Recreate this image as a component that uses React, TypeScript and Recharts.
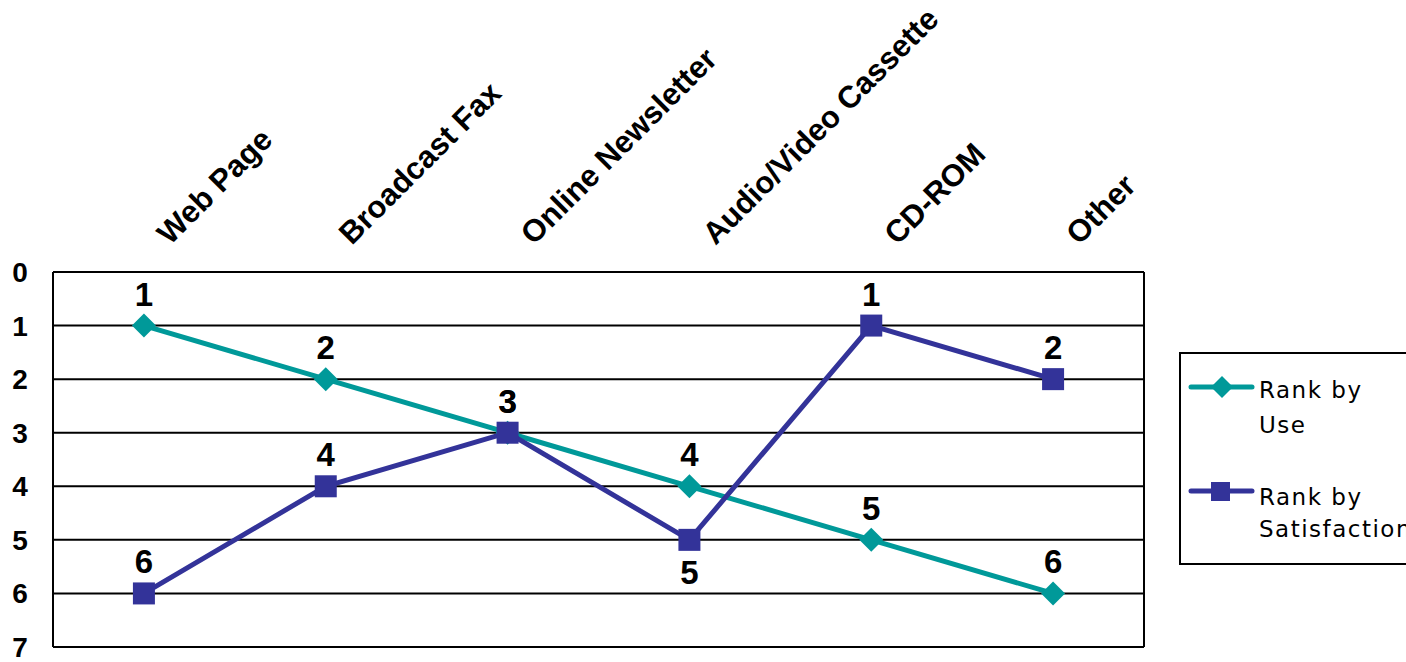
import { LineChart, Line, XAxis, YAxis, CartesianGrid, LabelList, Legend } from "recharts";

const categories = ["Web Page", "Broadcast Fax", "Online Newsletter", "Audio/Video Cassette", "CD-ROM", "Other"];
const rankByUse = [1, 2, 3, 4, 5, 6];
const rankBySatisfaction = [6, 4, 3, 5, 1, 2];
const yTicks = [0, 1, 2, 3, 4, 5, 6, 7];

const data = categories.map((name, i) => ({
  name,
  use: rankByUse[i],
  satisfaction: rankBySatisfaction[i],
}));

const TEAL = "#009999";
const NAVY = "#333399";
const BOLD = "'Liberation Sans', Arial, sans-serif";

const XTick = ({ x, payload }: any) => (
  <text
    x={x + 26}
    y={246}
    transform={`rotate(-45 ${x + 26} 246)`}
    textAnchor="start"
    fontFamily={BOLD}
    fontWeight="bold"
    fontSize={31}
    fill="#000"
  >
    {payload.value}
  </text>
);

const YTick = ({ y, payload }: any) => (
  <text x={20} y={y} dy={10} textAnchor="middle" fontFamily={BOLD} fontWeight="bold" fontSize={28} fill="#000">
    {payload.value}
  </text>
);

const Diamond = ({ cx, cy }: any) => (
  <polygon points={`${cx},${cy - 12} ${cx + 12},${cy} ${cx},${cy + 12} ${cx - 12},${cy}`} fill={TEAL} />
);

const Square = ({ cx, cy }: any) => <rect x={cx - 11} y={cy - 11} width={22} height={22} fill={NAVY} />;

const makeLabel = (below: number[]) => (props: any) => {
  const { x, y, value, index } = props;
  const isBelow = below.includes(index);
  return (
    <text
      x={x}
      y={isBelow ? y + 44 : y - 20}
      textAnchor="middle"
      fontFamily={BOLD}
      fontWeight="bold"
      fontSize={33}
      fill="#000"
    >
      {value}
    </text>
  );
};

const LegendBox = () => {
  const font = { fontFamily: "'DejaVu Sans', Tahoma, sans-serif", fontSize: 23, letterSpacing: 1.5, fill: "#000" };
  return (
    <svg width={240} height={214} style={{ display: "block" }}>
      <rect x={1} y={1} width={260} height={211} fill="#fff" stroke="#000" strokeWidth={2} />
      <line x1={12} y1={35} x2={73} y2={35} stroke={TEAL} strokeWidth={5} strokeLinecap="round" />
      <polygon points="43,24 54,35 43,46 32,35" fill={TEAL} />
      <text x={80} y={46} {...font}>Rank by</text>
      <text x={80} y={81} {...font}>Use</text>
      <line x1={12} y1={139} x2={73} y2={139} stroke={NAVY} strokeWidth={5} strokeLinecap="round" />
      <rect x={32} y={130} width={19} height={19} fill={NAVY} />
      <text x={80} y={153} {...font}>Rank by</text>
      <text x={80} y={185} {...font}>Satisfaction</text>
    </svg>
  );
};

const App = () => {
  return (
    <div style={{ position: "absolute", top: 0, left: 0, width: 1406, height: 662, overflow: "hidden", background: "#fff" }}>
      <LineChart width={1406} height={662} data={data} margin={{ top: 0, right: 262, bottom: 15, left: 0 }}>
        <CartesianGrid
          stroke="#000"
          strokeWidth={2}
          verticalCoordinatesGenerator={({ offset }: any) => [offset.left, offset.left + offset.width]}
        />
        <XAxis
          dataKey="name"
          orientation="top"
          scale="band"
          height={272}
          axisLine={false}
          tickLine={false}
          interval={0}
          tick={<XTick />}
        />
        <YAxis
          reversed
          domain={[0, 7]}
          ticks={yTicks}
          width={53}
          axisLine={false}
          tickLine={false}
          interval={0}
          tick={<YTick />}
        />
        <Legend
          layout="horizontal"
          verticalAlign="middle"
          align="center"
          content={<LegendBox />}
          wrapperStyle={{ position: "absolute", left: 1179, top: 352, width: 240, height: 214 }}
        />
        <Line
          dataKey="use"
          stroke={TEAL}
          strokeWidth={5}
          dot={<Diamond />}
          activeDot={false}
          isAnimationActive={false}
        >
          <LabelList dataKey="use" content={makeLabel([])} />
        </Line>
        <Line
          dataKey="satisfaction"
          stroke={NAVY}
          strokeWidth={5}
          dot={<Square />}
          activeDot={false}
          isAnimationActive={false}
        >
          <LabelList dataKey="satisfaction" content={makeLabel([3])} />
        </Line>
      </LineChart>
    </div>
  );
};

export default App;
